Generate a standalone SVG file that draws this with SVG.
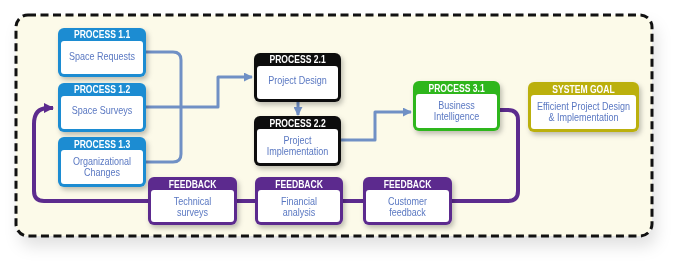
<svg xmlns="http://www.w3.org/2000/svg" width="692" height="274" viewBox="0 0 692 274">
<defs>
<style>
.hd{font-family:"Liberation Sans",Arial,sans-serif;font-weight:bold;font-size:11px;fill:#fff;text-anchor:middle;transform-box:fill-box;transform-origin:center;transform:scaleX(0.78)}
.bd{font-family:"Liberation Sans",Arial,sans-serif;font-size:10.5px;fill:#5a78c2;text-anchor:middle;transform-box:fill-box;transform-origin:center;transform:scaleX(0.86)}
.in{fill:#fff}
.blue{fill:#1a8cd2}
.black{fill:#111}
.green{fill:#2fb61d}
.olive{fill:#bbb00f}
.purple{fill:#5c2b8e}
.con{fill:none;stroke:#7090c5;stroke-width:3;stroke-linejoin:round}
.fb{fill:none;stroke:#5c2b8e;stroke-width:4;stroke-linejoin:round}
</style>
<filter id="sh" x="-20%" y="-20%" width="150%" height="160%">
<feDropShadow dx="2" dy="3" stdDeviation="2.5" flood-color="#000" flood-opacity="0.25"/>
</filter>
<filter id="csh" x="-10%" y="-10%" width="125%" height="135%">
<feDropShadow dx="4" dy="10" stdDeviation="8" flood-color="#000" flood-opacity="0.12"/>
</filter>
<marker id="ab" viewBox="0 0 10 10" refX="9" refY="5" markerWidth="3" markerHeight="3" orient="auto" markerUnits="strokeWidth">
<path d="M0,0 L10,5 L0,10 z" fill="#7090c5"/>
</marker>
<marker id="ap" viewBox="0 0 10 10" refX="9" refY="5" markerWidth="2.6" markerHeight="2.6" orient="auto" markerUnits="strokeWidth">
<path d="M0,0 L10,5 L0,10 z" fill="#5c2b8e"/>
</marker>
</defs>

<rect x="0" y="0" width="692" height="274" fill="#fff"/>
<g id="container">
<rect x="16" y="15" width="636" height="221" rx="12" fill="#fcfae9" filter="url(#csh)"/>
<rect x="16" y="15" width="636" height="221" rx="12" fill="none" stroke="#111" stroke-width="3" stroke-dasharray="8 4.5"/>
</g>

<g id="connectors">
<path class="con" d="M146,52 H173 Q181,52 181,60 V154 Q181,162 173,162 H146"/>
<path class="con" d="M146,107 H218 V77 H252" marker-end="url(#ab)"/>
<path class="con" d="M298,102 V115" marker-end="url(#ab)"/>
<path class="con" d="M341,140 H375 V112 H411" marker-end="url(#ab)"/>
<path class="fb" d="M500,110 H508 Q518,110 518,120 V191 Q518,201 508,201 H44 Q34,201 34,191 V124 Q34,108 48,108 H53" marker-end="url(#ap)"/>
</g>

<g id="p11" filter="url(#sh)">
<rect class="blue" x="58" y="28" width="88" height="49" rx="6"/>
<rect class="in" x="61" y="41" width="82" height="33" rx="3"/>
<text class="hd" x="102" y="38">PROCESS 1.1</text>
<text class="bd" x="102" y="60">Space Requests</text>
</g>
<g id="p12" filter="url(#sh)">
<rect class="blue" x="58" y="83" width="88" height="49" rx="6"/>
<rect class="in" x="61" y="96" width="82" height="33" rx="3"/>
<text class="hd" x="102" y="93">PROCESS 1.2</text>
<text class="bd" x="102" y="114">Space Surveys</text>
</g>
<g id="p13" filter="url(#sh)">
<rect class="blue" x="58" y="137" width="88" height="50" rx="6"/>
<rect class="in" x="61" y="150" width="82" height="34" rx="3"/>
<text class="hd" x="102" y="148">PROCESS 1.3</text>
<text class="bd" x="102" y="165">Organizational</text>
<text class="bd" x="102" y="176">Changes</text>
</g>
<g id="p21" filter="url(#sh)">
<rect class="black" x="254" y="53" width="87" height="49" rx="6"/>
<rect class="in" x="257" y="66" width="81" height="33" rx="3"/>
<text class="hd" x="297.5" y="63">PROCESS 2.1</text>
<text class="bd" x="297.5" y="84">Project Design</text>
</g>
<g id="p22" filter="url(#sh)">
<rect class="black" x="254" y="116" width="87" height="50" rx="6"/>
<rect class="in" x="257" y="129" width="81" height="34" rx="3"/>
<text class="hd" x="297.5" y="127">PROCESS 2.2</text>
<text class="bd" x="297.5" y="144">Project</text>
<text class="bd" x="297.5" y="155">Implementation</text>
</g>
<g id="p31" filter="url(#sh)">
<rect class="green" x="413" y="81" width="87" height="50" rx="6"/>
<rect class="in" x="416" y="94" width="81" height="34" rx="3"/>
<text class="hd" x="456.5" y="92">PROCESS 3.1</text>
<text class="bd" x="456.5" y="109">Business</text>
<text class="bd" x="456.5" y="120">Intelligence</text>
</g>
<g id="goal" filter="url(#sh)">
<rect class="olive" x="528" y="82" width="111" height="50" rx="6"/>
<rect class="in" x="531" y="95" width="105" height="34" rx="3"/>
<text class="hd" x="583.5" y="93">SYSTEM GOAL</text>
<text class="bd" x="583.5" y="110">Efficient Project Design</text>
<text class="bd" x="583.5" y="121">&amp; Implementation</text>
</g>
<g id="fb1" filter="url(#sh)">
<rect class="purple" x="148" y="177" width="89" height="48" rx="6"/>
<rect class="in" x="151" y="190" width="83" height="32" rx="3"/>
<text class="hd" x="192.5" y="188">FEEDBACK</text>
<text class="bd" x="192.5" y="205.5">Technical</text>
<text class="bd" x="192.5" y="216">surveys</text>
</g>
<g id="fb2" filter="url(#sh)">
<rect class="purple" x="255" y="177" width="88" height="48" rx="6"/>
<rect class="in" x="258" y="190" width="82" height="32" rx="3"/>
<text class="hd" x="299" y="188">FEEDBACK</text>
<text class="bd" x="299" y="205.5">Financial</text>
<text class="bd" x="299" y="216">analysis</text>
</g>
<g id="fb3" filter="url(#sh)">
<rect class="purple" x="363" y="177" width="89" height="48" rx="6"/>
<rect class="in" x="366" y="190" width="83" height="32" rx="3"/>
<text class="hd" x="407.5" y="188">FEEDBACK</text>
<text class="bd" x="407.5" y="205.5">Customer</text>
<text class="bd" x="407.5" y="216">feedback</text>
</g>
</svg>
